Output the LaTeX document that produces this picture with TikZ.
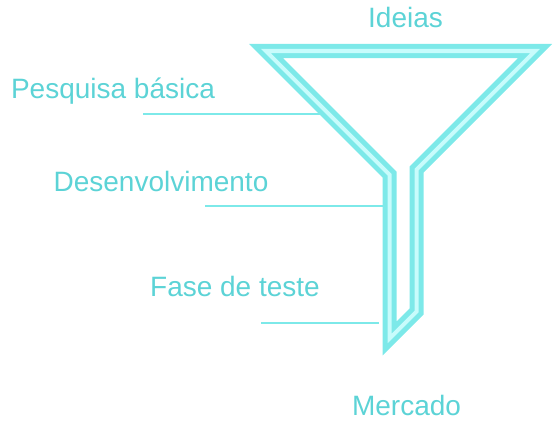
\documentclass[tikz,border=0pt]{standalone}
\usepackage{fontspec}
\setmainfont{Liberation Sans}
\definecolor{labeltxt}{HTML}{5CD3D6}
\definecolor{funnelout}{HTML}{7DE9E9}
\definecolor{funnelin}{HTML}{C8FCFC}
\begin{document}
\begin{tikzpicture}[x=1pt,y=-1pt,
  lbl/.style={anchor=base,inner sep=0pt,text=labeltxt,font=\fontsize{28}{34}\selectfont},
  leader/.style={draw=funnelout,line width=2pt},
  funnel/.style={draw=funnelout,line width=5pt,double=funnelin,double distance=4pt,line join=miter,miter limit=10}]
\useasboundingbox (0,0) rectangle (553,420);
% funnel centerline corners
\coordinate (f1) at (265.9,51);
\coordinate (f2) at (535.1,51);
\coordinate (f3) at (416.7,169.4);
\coordinate (f4) at (416.7,311.4);
\coordinate (f5) at (389.7,338.4);
\coordinate (f6) at (389.7,174.8);
% labels
\node[lbl] (ideias) at (405.5,28) {Ideias};
\node[lbl] (pesq) at (113,98.5) {Pesquisa básica};
\node[lbl] (desenv) at (161,191) {Desenvolvimento};
\node[lbl] (fase) at (235,296.5) {Fase de teste};
\node[lbl,text depth=0pt] (mercado) at (406.5,415.5) {Mercado};
% leader lines
\coordinate (p0) at (143,114);
\coordinate (p1) at (328,114);
\coordinate (d0) at (205,205.5);
\coordinate (d1) at (389,205.5);
\coordinate (t0) at (261,322.5);
\coordinate (t1) at (378.5,322.5);
\draw[leader] (p0) -- (p1);
\draw[leader] (d0) -- (d1);
\draw[leader] (t0) -- (t1);
% funnel
\draw[funnel] (f1) -- (f2) -- (f3) -- (f4) -- (f5) -- (f6) -- cycle;
\end{tikzpicture}
\end{document}
